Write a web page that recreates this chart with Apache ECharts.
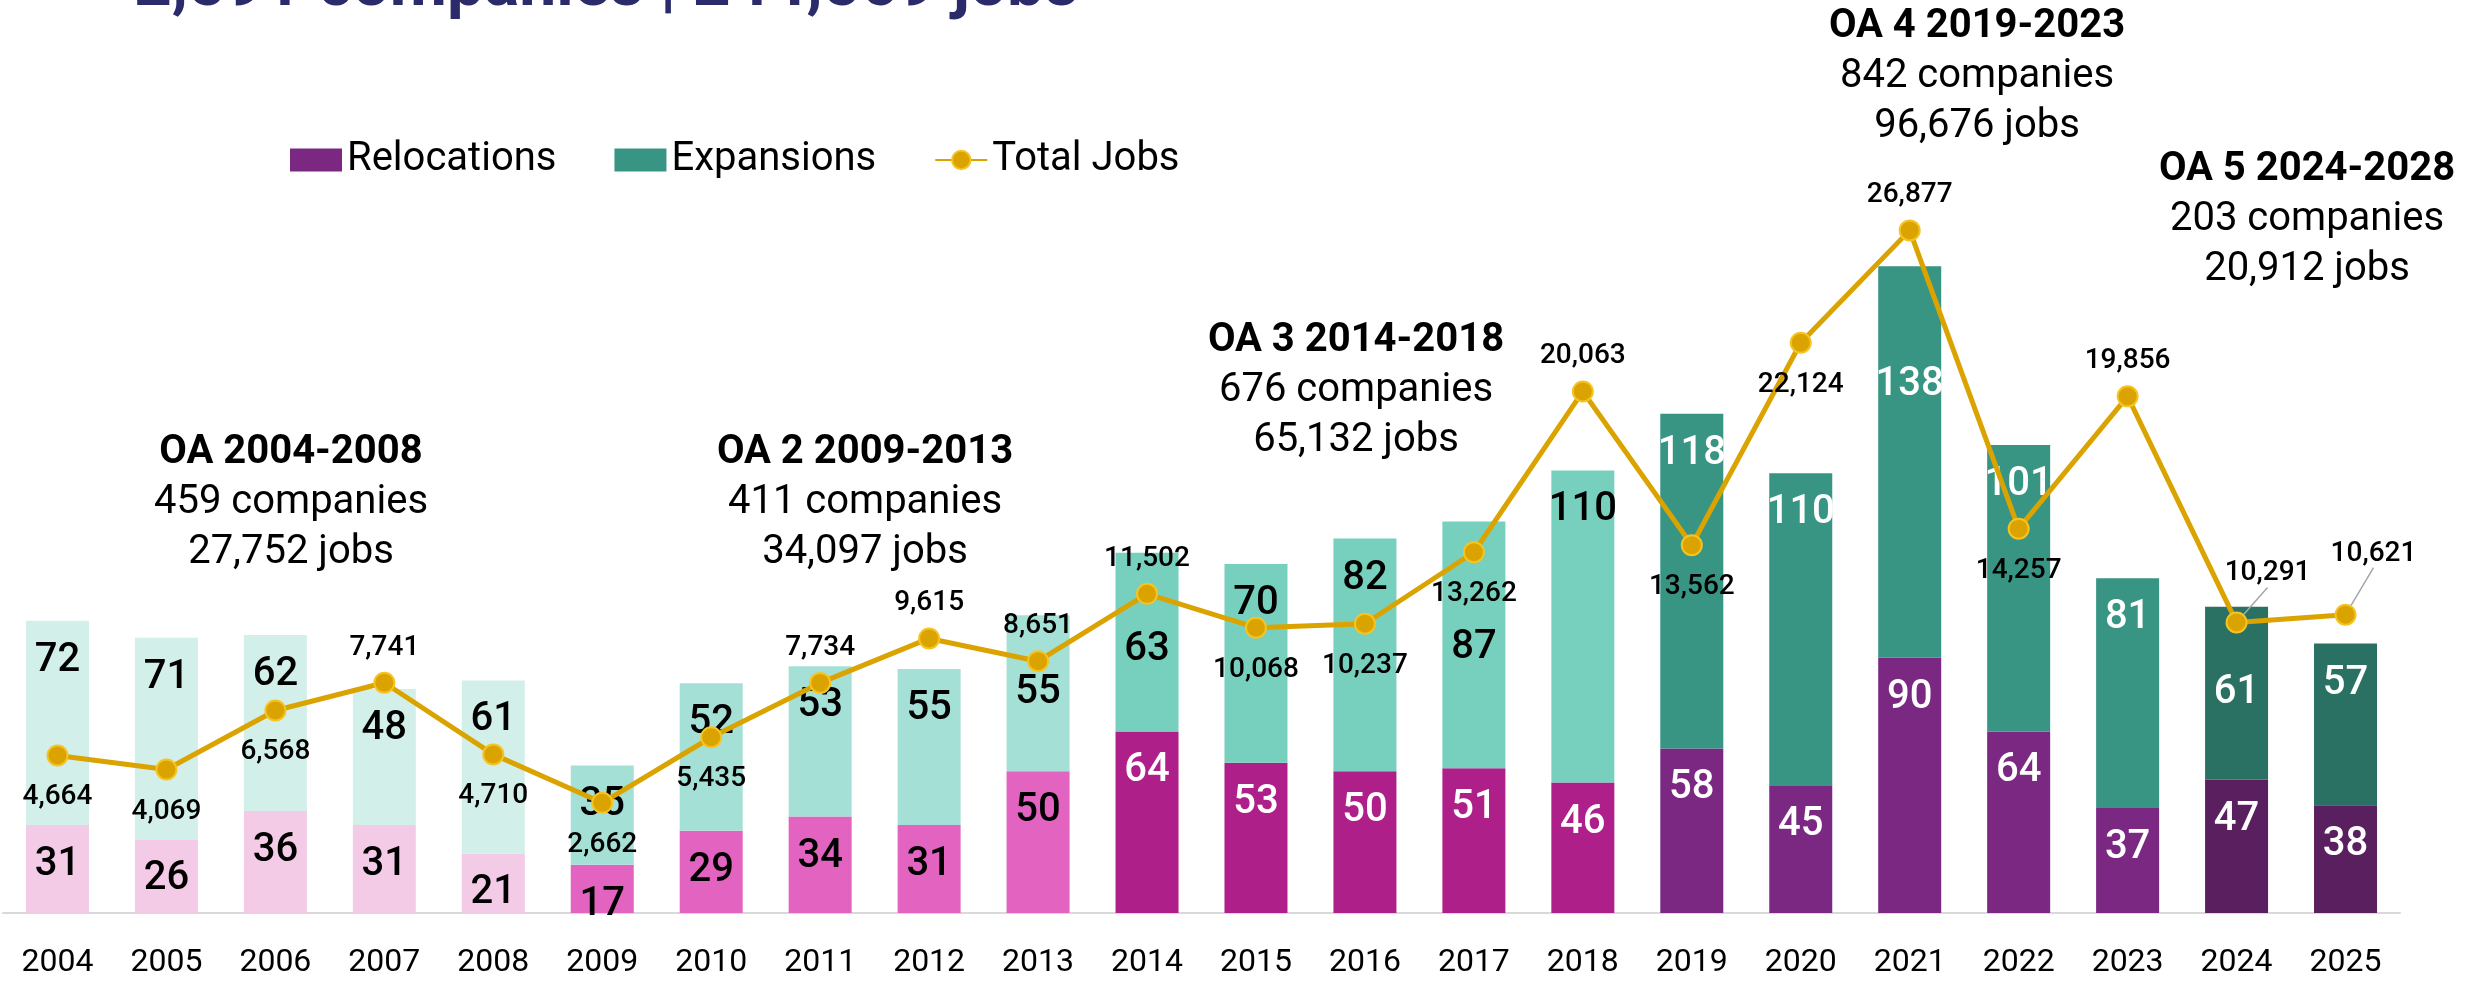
<!DOCTYPE html>
<html lang="en">
<head>
<meta charset="UTF-8">
<title>Relocations and Expansions</title>
<script src="https://cdn.jsdelivr.net/npm/echarts@6/dist/echarts.min.js"></script>
<style>
    body, html { margin: 0; padding: 0; background: #fff; }
    #chart { width: 2466px; height: 983px; }
</style>
</head>
<body>
<div id="chart"></div>
<script>
    // data
    const years = ['2004', '2005', '2006', '2007', '2008', '2009', '2010', '2011', '2012', '2013', '2014',
        '2015', '2016', '2017', '2018', '2019', '2020', '2021', '2022', '2023', '2024', '2025'];
    const relocations = [31, 26, 36, 31, 21, 17, 29, 34, 31, 50, 64, 53, 50, 51, 46, 58, 45, 90, 64, 37, 47, 38];
    const expansions = [72, 71, 62, 48, 61, 35, 52, 53, 55, 55, 63, 70, 82, 87, 110, 118, 110, 138, 101, 81, 61, 57];
    const totalJobs = [4664, 4069, 6568, 7741, 4710, 2662, 5435, 7734, 9615, 8651, 11502,
        10068, 10237, 13262, 20063, 13562, 22124, 26877, 14257, 19856, 10291, 10621];

    const oaTitles = ['OA 2004-2008', 'OA 2 2009-2013', 'OA 3 2014-2018', 'OA 4 2019-2023', 'OA 5 2024-2028'];
    const oaCompanies = [459, 411, 676, 842, 203];
    const oaJobs = [27752, 34097, 65132, 96676, 20912];
    const headline = '2,591 companies | 244,569 jobs';

    // colours per OA period
    const relocColors = ['#f4cbe7', '#e264c0', '#ae1f8a', '#7b2882', '#5a1f5f'];
    const expColors = ['#d3efe9', '#a4e0d5', '#77d0bd', '#389583', '#2a7163'];
    const gold = '#dba300';
    const font = 'Roboto';

    // label placement tweaks (extra drop of expansion labels, side of job labels)
    const expLabelDrop = {9: 38, 10: 57, 13: 86, 17: 79, 20: 46};
    const jobLabelSide = ['bottom', 'bottom', 'bottom', 'top', 'bottom', 'bottom', 'bottom', 'top', 'top', 'top', 'top',
        'bottom', 'bottom', 'bottom', 'top', 'bottom', 'bottom', 'top', 'bottom', 'top', 'top', 'top'];
    const jobLabelShift = {20: [31, -14], 21: [28, -26]};

    const period = i => Math.min(4, Math.floor(i / 5));
    const fmt = v => v.toLocaleString('en-US');

    var chart = echarts.init(document.getElementById('chart'));

    var relocData = relocations.map((v, i) => ({
        value: v,
        itemStyle: { color: relocColors[period(i)] },
        label: { color: i >= 10 ? '#fff' : '#000' }
    }));
    var expData = expansions.map((v, i) => ({
        value: v,
        itemStyle: { color: expColors[period(i)] },
        label: { color: i >= 15 ? '#fff' : '#000', offset: [0, expLabelDrop[i] || 0] }
    }));
    var jobData = totalJobs.map((v, i) => {
        var item = {
            value: v,
            label: { position: jobLabelSide[i], distance: jobLabelSide[i] === 'top' ? 10 : 17 }
        };
        if (jobLabelShift[i]) {
            item.labelLine = { show: true, lineStyle: { color: '#a6a6a6', width: 1.5 } };
        }
        return item;
    });

    var barLabel = {
        show: true,
        position: 'insideTop',
        distance: 20,
        fontFamily: font,
        fontSize: 40,
        fontWeight: 500
    };

    var option = {
        animation: false,
        textStyle: { fontFamily: font },
        legend: {
            left: 285,
            top: 135,
            itemWidth: 52,
            itemHeight: 23,
            itemGap: 58,
            textStyle: { fontSize: 40, color: '#000', fontFamily: font },
            data: [
                { name: 'Relocations', icon: 'rect' },
                { name: 'Expansions', icon: 'rect' },
                { name: 'Total Jobs' }
            ]
        },
        grid: { left: 3, right: 66, top: 62, bottom: 70 },
        xAxis: {
            type: 'category',
            data: years,
            axisLine: { lineStyle: { color: '#d9d9d9', width: 2 } },
            axisTick: { show: false },
            axisLabel: { fontSize: 32, color: '#000', margin: 34, fontFamily: font }
        },
        yAxis: [
            { type: 'value', min: 0, max: 300, show: false, splitLine: { show: false } },
            { type: 'value', min: -2000, max: 34000, show: false, splitLine: { show: false } }
        ],
        series: [
            {
                name: 'Relocations',
                type: 'bar',
                stack: 'total',
                barWidth: 63,
                itemStyle: { color: '#7b2882' },
                label: barLabel,
                data: relocData
            },
            {
                name: 'Expansions',
                type: 'bar',
                stack: 'total',
                barWidth: 63,
                itemStyle: { color: '#389583' },
                label: barLabel,
                data: expData
            },
            {
                name: 'Total Jobs',
                type: 'line',
                yAxisIndex: 1,
                z: 5,
                symbol: 'circle',
                symbolSize: 20,
                lineStyle: { color: gold, width: 5 },
                itemStyle: { color: gold, borderColor: '#f5c422', borderWidth: 2 },
                label: {
                    show: true,
                    fontSize: 28,
                    fontWeight: 500,
                    color: '#000',
                    fontFamily: font,
                    formatter: p => fmt(p.value)
                },
                labelLine: { show: false },
                labelLayout: function (p) {
                    var s = jobLabelShift[p.dataIndex];
                    return s ? { dx: s[0], dy: s[1] } : {};
                },
                data: jobData
            }
        ]
    };
    chart.setOption(option);

    // OA period notes and the headline, cut at the top like the source
    var noteX = [291, 865, 1356, 1977, 2307];
    var noteTop = [428, 428, 316, 2, 145];
    var graphics = oaTitles.map((t, i) => ({
        type: 'text',
        x: noteX[i],
        y: noteTop[i],
        style: {
            text: '{b|' + t + '}\n' + oaCompanies[i] + ' companies\n' + fmt(oaJobs[i]) + ' jobs',
            align: 'center',
            verticalAlign: 'top',
            fontFamily: font,
            fontSize: 40,
            lineHeight: 50,
            fill: '#000',
            rich: { b: { fontWeight: 'bold', fontSize: 40, lineHeight: 50, fontFamily: font } }
        }
    }));
    graphics.push({
        type: 'text',
        x: 134,
        y: -12,
        style: {
            text: headline,
            verticalAlign: 'middle',
            fontFamily: font,
            fontSize: 66,
            fontWeight: 'bold',
            fill: '#2b2a6b'
        }
    });
    chart.setOption({ graphic: graphics });
</script>
</body>
</html>
